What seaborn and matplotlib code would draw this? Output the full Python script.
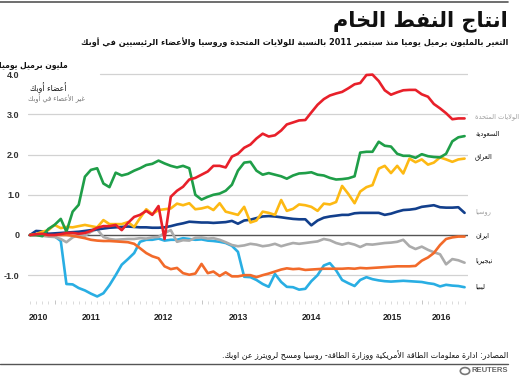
import re
import pandas as pd
import matplotlib
matplotlib.use("Agg")
import matplotlib.pyplot as plt
import matplotlib.dates as mdates
from matplotlib.patches import Circle
import seaborn as sns

# ---- data (million bpd change vs start), monthly Sep 2010 - Aug 2016 ----
start = "2010-09-01"
n_months = 72

usa = [0, 0.02, 0.03, 0.0, 0.0, 0.02, 0.05, 0.05, 0.03, 0.05, 0.1, 0.18,
       0.22, 0.22, 0.25, 0.12, 0.3, 0.45, 0.5, 0.6, 0.5, 0.72, -0.1, 0.95,
       1.1, 1.2, 1.38, 1.42, 1.5, 1.58, 1.72, 1.72, 1.68, 1.95, 2.02, 2.17,
       2.25, 2.4, 2.52, 2.45, 2.48, 2.6, 2.75, 2.8, 2.85, 2.86, 3.05, 3.24,
       3.38, 3.47, 3.52, 3.56, 3.65, 3.75, 3.78, 3.98, 3.99, 3.83, 3.6, 3.49,
       3.55, 3.6, 3.61, 3.61, 3.5, 3.44, 3.26, 3.15, 3.03, 2.88, 2.9, 2.9]
saudi = [0, 0.0, -0.03, 0.15, 0.25, 0.4, 0.08, 0.58, 0.75, 1.45, 1.62, 1.66,
         1.28, 1.19, 1.55, 1.48, 1.52, 1.6, 1.66, 1.74, 1.77, 1.85, 1.78, 1.72,
         1.68, 1.72, 1.66, 1.0, 0.88, 0.95, 1.0, 1.03, 1.1, 1.25, 1.6, 1.8,
         1.82, 1.6, 1.5, 1.54, 1.5, 1.46, 1.4, 1.48, 1.53, 1.54, 1.56, 1.5,
         1.48, 1.42, 1.38, 1.39, 1.41, 1.46, 2.05, 2.07, 2.07, 2.32, 2.22, 2.2,
         2.02, 1.97, 1.97, 1.92, 2.01, 1.96, 1.94, 1.93, 2.02, 2.33, 2.43, 2.46]
iraq = [0, 0.02, 0.08, 0.12, 0.25, 0.17, 0.2, 0.19, 0.22, 0.25, 0.22, 0.19,
        0.37, 0.27, 0.27, 0.27, 0.32, 0.2, 0.42, 0.64, 0.52, 0.62, 0.64, 0.66,
        0.78, 0.74, 0.79, 0.64, 0.66, 0.7, 0.62, 0.79, 0.58, 0.54, 0.5, 0.7,
        0.31, 0.36, 0.58, 0.55, 0.5, 0.87, 0.6, 0.65, 0.76, 0.74, 0.7, 0.6,
        0.78, 0.76, 0.82, 1.22, 1.02, 0.79, 1.08, 1.19, 1.24, 1.65, 1.72, 1.54,
        1.72, 1.53, 1.9, 1.81, 1.88, 1.75, 1.8, 1.93, 1.88, 1.82, 1.88, 1.9]
russia = [0, 0.1, 0.09, 0.03, 0.04, 0.05, 0.06, 0.07, 0.08, 0.1, 0.12, 0.14,
          0.16, 0.18, 0.19, 0.2, 0.21, 0.2, 0.19, 0.19, 0.18, 0.18, 0.19, 0.22,
          0.26, 0.29, 0.33, 0.32, 0.31, 0.31, 0.3, 0.31, 0.32, 0.35, 0.28, 0.36,
          0.38, 0.42, 0.46, 0.47, 0.46, 0.44, 0.42, 0.4, 0.39, 0.39, 0.24, 0.36,
          0.43, 0.46, 0.48, 0.5, 0.5, 0.54, 0.55, 0.55, 0.55, 0.55, 0.5, 0.53,
          0.58, 0.62, 0.63, 0.65, 0.7, 0.72, 0.74, 0.69, 0.68, 0.68, 0.69, 0.55]
iran = [0, 0, 0, 0, 0, 0, 0, -0.02, -0.05, -0.08, -0.12, -0.14,
        -0.15, -0.15, -0.16, -0.17, -0.18, -0.22, -0.33, -0.45, -0.53, -0.58, -0.78, -0.85,
        -0.82, -0.95, -0.99, -0.96, -0.72, -0.95, -0.91, -1.02, -0.93, -1.03, -1.03, -1.0,
        -1.0, -1.05, -1.0, -0.96, -0.91, -0.86, -0.83, -0.85, -0.84, -0.87, -0.86, -0.85,
        -0.84, -0.84, -0.84, -0.84, -0.83, -0.84, -0.82, -0.83, -0.82, -0.81, -0.8, -0.79,
        -0.78, -0.78, -0.78, -0.77, -0.64, -0.56, -0.45, -0.25, -0.1, -0.06, -0.04, -0.04]
nigeria = [0, 0, -0.02, -0.04, -0.05, -0.1, -0.18, -0.06, 0.0, -0.02, 0.08, 0.14,
           -0.05, -0.1, -0.12, -0.11, -0.1, -0.1, -0.08, -0.09, -0.06, -0.05, 0.05, 0.12,
           -0.17, -0.13, -0.14, -0.07, -0.06, -0.09, -0.08, -0.12, -0.18, -0.25, -0.28, -0.26,
           -0.22, -0.24, -0.28, -0.26, -0.22, -0.28, -0.24, -0.2, -0.22, -0.2, -0.18, -0.16,
           -0.1, -0.13, -0.2, -0.24, -0.2, -0.24, -0.3, -0.23, -0.24, -0.22, -0.2, -0.19,
           -0.17, -0.12, -0.28, -0.35, -0.29, -0.37, -0.43, -0.48, -0.73, -0.6, -0.63, -0.69]
libya = [0, 0, 0, -0.02, -0.03, -0.15, -1.22, -1.23, -1.32, -1.38, -1.46, -1.53,
         -1.45, -1.25, -1.0, -0.74, -0.6, -0.45, -0.17, -0.12, -0.12, -0.09, -0.14, -0.12,
         -0.12, -0.08, -0.1, -0.12, -0.11, -0.14, -0.15, -0.17, -0.2, -0.27, -0.42, -1.04,
         -1.05, -1.12, -1.22, -1.29, -0.97, -1.17, -1.29, -1.3, -1.36, -1.34, -1.15, -1.0,
         -0.76, -0.7, -0.88, -1.12, -1.2, -1.27, -1.12, -1.05, -1.1, -1.13, -1.15, -1.16,
         -1.15, -1.14, -1.15, -1.16, -1.17, -1.2, -1.22, -1.28, -1.24, -1.26, -1.27, -1.3]

countries = ["libya", "nigeria", "iran", "russia", "iraq", "saudi", "usa"]
colors = {"usa": "#e8202a", "saudi": "#1f9e48", "iraq": "#fdb913",
          "russia": "#123f8c", "iran": "#f26a2a", "nigeria": "#ababab",
          "libya": "#29aee3"}

# Arabic labels (logical order)
title = "انتاج النفط الخام"
subtitle = "التغير بالمليون برميل يوميا منذ سبتمبر 2011 بالنسبة للولايات المتحدة وروسيا والأعضاء الرئيسيين في أوبك"
unit_label = "مليون برميل يوميا"
opec_label = "أعضاء أوبك"
non_opec_label = "غير الأعضاء في أوبك"
source = "المصادر: ادارة معلومات الطاقة الأمريكية ووزارة الطاقة- روسيا ومسح لرويترز عن اوبك."
names = {"usa": "الولايات المتحدة", "saudi": "السعودية", "iraq": "العراق",
         "russia": "روسيا", "iran": "ايران", "nigeria": "نيجيريا", "libya": "ليبيا"}
years = ["2010", "2011", "2012", "2013", "2014", "2015", "2016"]
ytick_vals = [-1, 0, 1, 2, 3, 4]
ytick_labels = ["-1.0", "0", "1.0", "2.0", "3.0", "4.0"]

# ---- simple Arabic shaping (presentation forms) + visual order ----
RIGHT = dict(zip("آأؤإاةدذرزوى",
                 [0xFE81, 0xFE83, 0xFE85, 0xFE87, 0xFE8D, 0xFE93, 0xFEA9,
                  0xFEAB, 0xFEAD, 0xFEAF, 0xFEED, 0xFEEF]))
DUAL = dict(zip("ئبتثجحخسشصضطظعغفقكلمنهي",
                [0xFE89, 0xFE8F, 0xFE95, 0xFE99, 0xFE9D, 0xFEA1, 0xFEA5, 0xFEB1,
                 0xFEB5, 0xFEB9, 0xFEBD, 0xFEC1, 0xFEC5, 0xFEC9, 0xFECD, 0xFED1,
                 0xFED5, 0xFED9, 0xFEDD, 0xFEE1, 0xFEE5, 0xFEE9, 0xFEF1]))
LAM_ALEF = {"آ": 0xFEF5, "أ": 0xFEF7, "إ": 0xFEF9, "ا": 0xFEFB}


def ar(text):
    out = []
    i, joins = 0, False
    while i < len(text):
        c = text[i]
        nxt_c = text[i + 1] if i + 1 < len(text) else ""
        if c == "ل" and nxt_c in LAM_ALEF and nxt_c:
            out.append(chr(LAM_ALEF[nxt_c] + (1 if joins else 0)))
            joins = False
            i += 2
            continue
        if c in DUAL:
            nxt = bool(nxt_c) and (nxt_c in DUAL or nxt_c in RIGHT)
            base = DUAL[c]
            if joins and nxt:
                g = base + 3
            elif joins:
                g = base + 1
            elif nxt:
                g = base + 2
            else:
                g = base
            out.append(chr(g))
            joins = nxt
        elif c in RIGHT:
            out.append(chr(RIGHT[c] + (1 if joins else 0)))
            joins = False
        elif c == "ء":
            out.append("\uFE80")
            joins = False
        else:
            out.append(c)
            joins = False
        i += 1
    vis = "".join(out)[::-1]
    return re.sub(r"[0-9]+", lambda m: m.group(0)[::-1], vis)


# ---- figure ----
sns.set_theme(style="white")
plt.rcParams["font.family"] = ["DejaVu Sans"]

dates = pd.date_range(start, periods=n_months, freq="MS")
series = {"usa": usa, "saudi": saudi, "iraq": iraq, "russia": russia,
          "iran": iran, "nigeria": nigeria, "libya": libya}
df = pd.concat([pd.DataFrame({"date": dates, "value": v, "country": k})
                for k, v in series.items()], ignore_index=True)

fig = plt.figure(figsize=(5.2, 3.78), dpi=100)
ax = fig.add_axes([28 / 520, 1 - 304.1 / 378, 440 / 520, 231.9 / 378])

for v in [-1, 1, 2, 3]:
    ax.axhline(v, color="#d2d2d2", lw=0.9, zorder=0)
ax.axhline(4, xmin=0.164, color="#d2d2d2", lw=0.9, zorder=0)
ax.axhline(0, color="#555555", lw=1.0, zorder=1)

sns.lineplot(data=df, x="date", y="value", hue="country", hue_order=countries,
             palette=colors, linewidth=1.9, legend=False, ax=ax, zorder=2)

ax.set_xlim(dates[0] - pd.Timedelta(days=10), dates[-1] + pd.Timedelta(days=17))
ax.set_ylim(-1.72, 4.05)
for s in ax.spines.values():
    s.set_visible(False)
ax.set_xlabel("")
ax.set_ylabel("")

ax.set_yticks(ytick_vals)
ax.set_yticklabels(ytick_labels, fontfamily="Liberation Sans", fontweight="bold",
                   fontsize=6.5, color="#333333")
ax.tick_params(axis="y", length=0, pad=6)

ax.xaxis.set_major_locator(mdates.YearLocator())
ax.xaxis.set_minor_locator(mdates.MonthLocator())
ax.xaxis.set_major_formatter(plt.NullFormatter())
ax.tick_params(axis="x", which="major", direction="in", length=3.2, width=0.6,
               color="#bbbbbb", bottom=True)
ax.tick_params(axis="x", which="minor", direction="in", length=2.0, width=0.5,
               color="#cccccc", bottom=True)

label_dates = ["2010-10-15", "2011-07-01", "2012-06-25", "2013-07-05",
               "2014-07-01", "2015-08-10", "2016-04-10"]
for d, y in zip(label_dates, years):
    ax.text(pd.Timestamp(d), -0.056, y, transform=ax.get_xaxis_transform(),
            ha="center", va="center", fontsize=6.2, fontweight="bold",
            family="Liberation Sans", color="#222222")

# right-hand labels
label_y = {"usa": 117, "saudi": 134, "iraq": 157, "russia": 212,
           "iran": 236, "nigeria": 261, "libya": 286}
label_col = {"usa": "#a0a0a0", "russia": "#a0a0a0"}
for k, py in label_y.items():
    fig.text(475 / 520, 1 - py / 378, ar(names[k]), ha="left", va="center",
             fontsize=4.8, color=label_col.get(k, "#111111"))

# header
fig.add_artist(plt.Line2D([0, 508 / 520], [1 - 2 / 378] * 2, color="#555555", lw=1.2))
fig.text(508 / 520, 1 - 21 / 378, ar(title), ha="right", va="center",
         fontsize=15, fontweight="bold", color="#111111")
fig.text(508 / 520, 1 - 42 / 378, ar(subtitle), ha="right", va="center",
         fontsize=5.85, fontweight="bold", color="#111111")
fig.text(68 / 520, 1 - 66 / 378, ar(unit_label), ha="right", va="center",
         fontsize=5.5, fontweight="bold", color="#111111")
fig.text(30 / 520, 1 - 88 / 378, ar(opec_label), ha="left", va="center",
         fontsize=5.6, color="#111111")
fig.text(28 / 520, 1 - 98 / 378, ar(non_opec_label), ha="left", va="center",
         fontsize=4.8, color="#777777")

# footer
fig.text(508 / 520, 1 - 355 / 378, ar(source), ha="right", va="center",
         fontsize=5.7, color="#111111")
fig.add_artist(plt.Line2D([0, 508 / 520], [1 - 364 / 378] * 2, color="#555555", lw=1.0))
fig.text(508 / 520, 1 - 371 / 378, "REUTERS", ha="right", va="center",
         fontsize=5.5, fontweight="bold", family="Liberation Sans", color="#666666")
fig.add_artist(Circle((465 / 520, 1 - 371 / 378), 0.009, transform=fig.transFigure,
                      fill=False, ec="#777777", lw=1.2))

fig.savefig("out.png", dpi=100, facecolor="white")
